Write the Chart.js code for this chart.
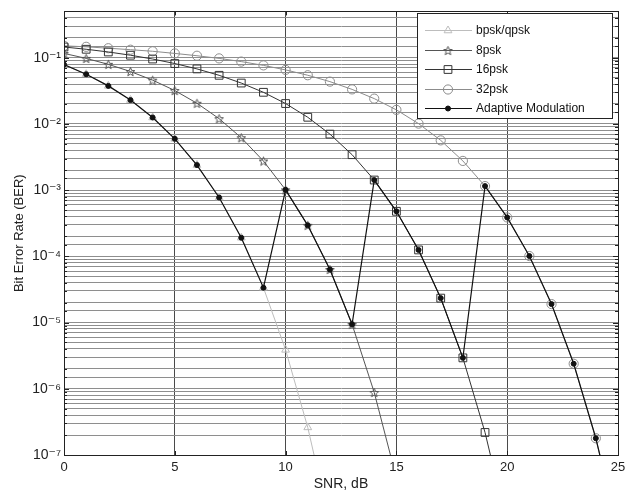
<!DOCTYPE html>
<html>
<head>
<meta charset="utf-8">
<script src="https://cdn.jsdelivr.net/npm/chart.js@4.4.0/dist/chart.umd.min.js"></script>
<style>
  html, body { margin: 0; padding: 0; background: #fff; }
  #wrap { width: 635px; height: 496px; }
</style>
</head>
<body>
<div id="wrap"><canvas id="berChart" width="635" height="496"></canvas></div>
<script>
// SNR steps (dB)
const snr = [0, 1, 2, 3, 4, 5, 6, 7, 8, 9, 10, 11, 12, 13, 14, 15, 16, 17, 18, 19, 20, 21, 22, 23, 24, 25];

// BER per scheme (one value per SNR step, from 0 dB)
const berBpsk = [7.86e-2, 5.63e-2, 3.75e-2, 2.29e-2, 1.25e-2, 5.95e-3, 2.39e-3, 7.73e-4, 1.91e-4, 3.36e-5, 3.87e-6, 2.61e-7, 9.0e-9];
const ber8psk = [0.116, 0.0976, 0.0793, 0.0618, 0.0458, 0.0319, 0.0205, 0.0120, 6.18e-3, 2.75e-3, 1.01e-3, 2.94e-4, 6.34e-5, 9.4e-6, 8.8e-7, 4.5e-8];
const ber16psk = [0.145, 0.134, 0.122, 0.109, 0.0955, 0.0816, 0.0677, 0.0542, 0.0414, 0.0300, 0.0203, 0.0126, 7.01e-3, 3.43e-3, 1.42e-3, 4.79e-4, 1.25e-4, 2.34e-5, 2.93e-6, 2.19e-7, 8.6e-9];
const ber32psk = [0.151, 0.146, 0.139, 0.132, 0.125, 0.116, 0.107, 0.0976, 0.0873, 0.0765, 0.0654, 0.0543, 0.0435, 0.0332, 0.0241, 0.0163, 0.0101, 5.64e-3, 2.76e-3, 1.15e-3, 3.87e-4, 1.01e-4, 1.90e-5, 2.39e-6, 1.79e-7, 7.1e-9];
const berAdaptive = [7.86e-2, 5.63e-2, 3.75e-2, 2.29e-2, 1.25e-2, 5.95e-3, 2.39e-3, 7.73e-4, 1.91e-4, 3.36e-5, 1.01e-3, 2.94e-4, 6.34e-5, 9.4e-6, 1.42e-3, 4.79e-4, 1.25e-4, 2.34e-5, 2.93e-6, 1.15e-3, 3.87e-4, 1.01e-4, 1.90e-5, 2.39e-6, 1.79e-7, 7.1e-9];

const seriesLabels = ['bpsk/qpsk', '8psk', '16psk', '32psk', 'Adaptive Modulation'];
const xTicks = [0, 5, 10, 15, 20, 25];

const FONT = '"Liberation Sans", Arial, "DejaVu Sans", sans-serif';

// superscript exponent for 10^n labels
const supMap = { '-': '\u207B', '0': '\u2070', '1': '\u00B9', '2': '\u00B2', '3': '\u00B3', '4': '\u2074', '5': '\u2075', '6': '\u2076', '7': '\u2077', '8': '\u2078', '9': '\u2079' };
const sup = n => String(n).split('').map(c => supMap[c]).join('');

// pentagram marker (matlab 'p')
function makeStar(color) {
    const c = document.createElement('canvas');
    c.width = 11; c.height = 11;
    const g = c.getContext('2d');
    g.strokeStyle = color;
    g.lineWidth = 1;
    g.beginPath();
    for (let i = 0; i < 10; i++) {
        const r = i % 2 ? 2 : 4.6;
        const a = -Math.PI / 2 + i * Math.PI / 5;
        const px = 5.5 + r * Math.cos(a), py = 6 + r * Math.sin(a);
        if (i) g.lineTo(px, py); else g.moveTo(px, py);
    }
    g.closePath();
    g.stroke();
    return c;
}

const toXY = arr => arr.map((v, i) => ({ x: snr[i], y: v }));

function series(label, data, color, style, radius, fill, width, order) {
    return {
        label: label,
        data: toXY(data),
        borderColor: color,
        borderWidth: width,
        pointStyle: style,
        pointRadius: radius,
        pointBorderColor: color,
        pointBackgroundColor: fill,
        pointBorderWidth: 1,
        pointHoverRadius: radius,
        tension: 0,
        order: order
    };
}

const datasets = [
    series(seriesLabels[0], berBpsk, '#bdbdbd', 'triangle', 4.5, 'rgba(0,0,0,0)', 1, 4),
    series(seriesLabels[1], ber8psk, '#555555', makeStar('#555555'), 4.5, 'rgba(0,0,0,0)', 1, 2),
    series(seriesLabels[2], ber16psk, '#333333', 'rect', 5.5, 'rgba(0,0,0,0)', 1, 1),
    series(seriesLabels[3], ber32psk, '#8c8c8c', 'circle', 4.6, 'rgba(0,0,0,0)', 1, 3),
    series(seriesLabels[4], berAdaptive, '#111111', 'circle', 2.5, '#111111', 1.2, 0)
];

// box round the plot + inward tick marks like matlab
const frameTicks = {
    id: 'frameTicks',
    afterDatasetsDraw(chart) {
        const { ctx, chartArea: a, scales: { x, y } } = chart;
        ctx.save();
        ctx.strokeStyle = '#222';
        ctx.lineWidth = 1;
        ctx.beginPath();
        x.ticks.forEach(t => {
            const px = Math.round(x.getPixelForValue(t.value)) + 0.5;
            ctx.moveTo(px, a.bottom); ctx.lineTo(px, a.bottom - 4);
            ctx.moveTo(px, a.top); ctx.lineTo(px, a.top + 4);
        });
        y.ticks.forEach(t => {
            const py = Math.round(y.getPixelForValue(t.value)) + 0.5;
            const len = t.label ? 5 : 3;
            ctx.moveTo(a.left, py); ctx.lineTo(a.left + len, py);
            ctx.moveTo(a.right, py); ctx.lineTo(a.right - len, py);
        });
        ctx.stroke();
        ctx.strokeRect(Math.round(a.left) + 0.5, Math.round(a.top) + 0.5, Math.round(a.right - a.left), Math.round(a.bottom - a.top));
        ctx.restore();
    }
};

// legend box with line + marker samples
const legendBox = {
    id: 'legendBox',
    afterDraw(chart) {
        const ctx = chart.ctx;
        ctx.save();
        ctx.fillStyle = '#fff';
        ctx.fillRect(417, 13, 195, 105);
        ctx.strokeStyle = '#222';
        ctx.lineWidth = 1;
        ctx.strokeRect(417.5, 13.5, 195, 105);
        chart.data.datasets.forEach((ds, i) => {
            const yy = Math.round(30 + i * 19.6) + 0.5;
            ctx.strokeStyle = ds.borderColor;
            ctx.lineWidth = ds.borderWidth;
            ctx.beginPath();
            ctx.moveTo(425, yy);
            ctx.lineTo(472, yy);
            ctx.stroke();
            ctx.fillStyle = ds.pointBackgroundColor;
            ctx.strokeStyle = ds.pointBorderColor;
            ctx.lineWidth = 1;
            Chart.helpers.drawPoint(ctx, { pointStyle: ds.pointStyle, radius: ds.pointRadius, borderWidth: 1, rotation: 0 }, 448, yy);
            ctx.fillStyle = '#111';
            ctx.font = '12px ' + FONT;
            ctx.textBaseline = 'middle';
            ctx.fillText(ds.label, 476, yy);
        });
        ctx.restore();
    }
};

new Chart(document.getElementById('berChart').getContext('2d'), {
    type: 'line',
    data: { datasets: datasets },
    options: {
        responsive: false,
        animation: false,
        events: [],
        layout: { padding: { left: 0, right: 17, top: 9, bottom: 0 } },
        plugins: {
            legend: { display: false },
            tooltip: { enabled: false }
        },
        scales: {
            x: {
                type: 'linear',
                min: 0,
                max: 25,
                afterBuildTicks: s => { s.ticks = xTicks.map(v => ({ value: v })); },
                afterFit: s => { s.height = 41; },
                ticks: { color: '#222', font: { family: FONT, size: 13 }, padding: 5, autoSkip: false, maxRotation: 0 },
                grid: { color: '#4a4a4a', lineWidth: 1, drawTicks: false },
                border: { color: '#222' },
                title: { display: true, text: 'SNR, dB', color: '#222', font: { family: FONT, size: 14 }, padding: { top: 0, bottom: 3 } }
            },
            y: {
                type: 'logarithmic',
                min: 1e-7,
                max: 0.5,
                afterFit: s => { s.width = 64; },
                ticks: {
                    color: '#222',
                    font: { family: FONT, size: 14 },
                    padding: 3,
                    autoSkip: false,
                    callback: v => {
                        const e = Math.log10(v);
                        return Math.abs(e - Math.round(e)) < 1e-6 ? '10' + sup(Math.round(e)) : '';
                    }
                },
                grid: { color: '#8e8e8e', lineWidth: 1, drawTicks: false },
                border: { color: '#222' },
                title: { display: true, text: 'Bit Error Rate (BER)', color: '#222', font: { family: FONT, size: 13 }, padding: { top: 12, bottom: 0 } }
            }
        }
    },
    plugins: [frameTicks, legendBox]
});
</script>
</body>
</html>
